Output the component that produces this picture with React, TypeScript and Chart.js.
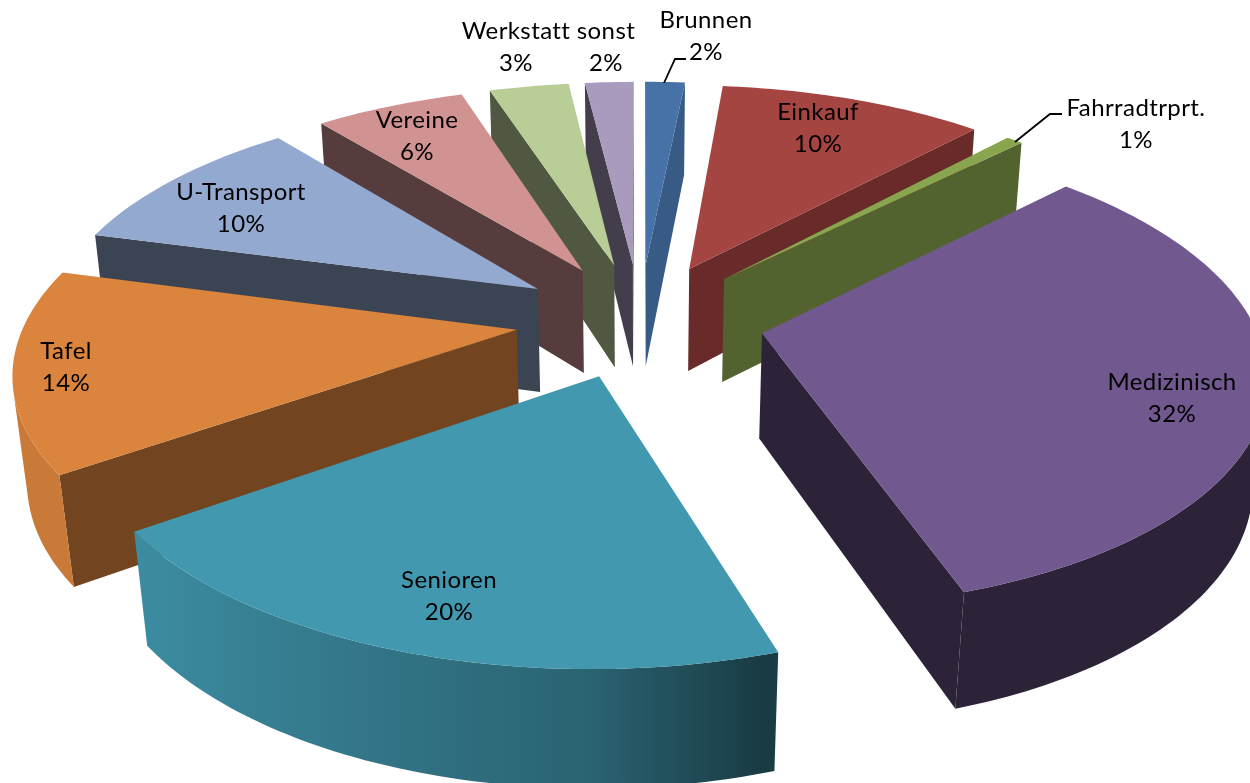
import React, { useEffect, useRef } from "react";
import { Chart, registerables } from "chart.js";

Chart.register(...registerables);

const categories = ["Brunnen", "Einkauf", "Fahrradtrprt.", "Medizinisch", "Senioren", "Tafel", "U-Transport", "Vereine", "Werkstatt", "sonst"];
const shares = [1.55, 10.35, 0.65, 32.45, 20.25, 13.9, 10, 5.85, 3.1, 1.9];
const colors = ["#4672a8", "#a54542", "#89a54e", "#71588f", "#4198af", "#db843d", "#93a9cf", "#d19392", "#b9cd96", "#a99bbd"];
const wallShades = [0.8, 0.63, 0.6, 0.4, 0.4, 0.52, 0.4, 0.41, 0.43, 0.4];
const labelCenters = [[706, 20], [818, 112], [1136, 108], [1172, 382], [449, 580], [66, 351], [241, 192], [417, 120], [516, 31], [606, 31]];
const leaderLines = [
  [[664, 83], [675, 59], [686, 59]],
  [[1015, 142], [1050, 114], [1062, 114]],
];

const VIEW = { cx: 640, cy: 319.5, R: 491, S: 227, K: 0.157, M: 0.023, T: 107 };

function project(u: number, v: number, z: number): [number, number] {
  const w = 1 + VIEW.K * v + VIEW.M * z;
  return [VIEW.cx + (VIEW.R * u) / w, VIEW.cy - (VIEW.S * v - VIEW.T * z) / w];
}

function scale(hex: string, f: number) {
  const n = parseInt(hex.slice(1), 16);
  return `rgb(${Math.round(((n >> 16) & 255) * f)},${Math.round(((n >> 8) & 255) * f)},${Math.round((n & 255) * f)})`;
}

function outerShade(a: number) {
  const nx = Math.cos(a);
  if (nx <= -0.8) return 0.92;
  if (nx <= 0) return 0.65 + (0.27 * -nx) / 0.8;
  if (nx <= 0.3) return 0.65 - (0.28 * nx) / 0.3;
  return 0.4;
}

function fillPoly(ctx: CanvasRenderingContext2D, pts: [number, number][], color: string | CanvasGradient) {
  ctx.beginPath();
  pts.forEach((p, i) => (i ? ctx.lineTo(p[0], p[1]) : ctx.moveTo(p[0], p[1])));
  ctx.closePath();
  ctx.fillStyle = color;
  ctx.fill();
}

function area(p: [number, number][]) {
  let s = 0;
  p.forEach((a, i) => {
    const b = p[(i + 1) % p.length];
    s += a[0] * b[1] - b[0] * a[1];
  });
  return s / 2;
}

const pie3d = {
  id: "pie3d",
  beforeDatasetsDraw(chart: any) {
    const ctx: CanvasRenderingContext2D = chart.ctx;
    const arcs = chart.getDatasetMeta(0).data as any[];
    const midOf = (a: any) => (a.startAngle + a.endAngle) / 2;
    const order = arcs.map((_, i) => i).sort((p, q) => Math.sin(midOf(arcs[p])) - Math.sin(midOf(arcs[q])));
    for (const i of order) {
      const arc = arcs[i];
      const base = arc.options.backgroundColor as string;
      const e = arc.options.offset / arc.outerRadius;
      const mid = midOf(arc);
      const ou = e * Math.cos(mid);
      const ov = -e * Math.sin(mid);
      const at = (a: number, r: number, z: number) => project(ou + r * Math.cos(a), ov - r * Math.sin(a), z);
      const steps = Math.max(4, Math.ceil((arc.endAngle - arc.startAngle) / 0.02));
      const angles = Array.from({ length: steps + 1 }, (_, k) => arc.startAngle + ((arc.endAngle - arc.startAngle) * k) / steps);
      // radial cut walls: keep those that face the viewer
      const wallA = [at(arc.startAngle, 0, 0), at(arc.startAngle, 0, 1), at(arc.startAngle, 1, 1), at(arc.startAngle, 1, 0)];
      const wallB = [at(arc.endAngle, 0, 0), at(arc.endAngle, 1, 0), at(arc.endAngle, 1, 1), at(arc.endAngle, 0, 1)];
      if (area(wallA) > 0) fillPoly(ctx, wallA, scale(base, wallShades[i]));
      if (area(wallB) > 0) fillPoly(ctx, wallB, scale(base, wallShades[i]));
      // curved outer wall: one shape with a gradient along the visible run
      const visible = angles.filter((a, k) => {
        const b = angles[k + 1] ?? a;
        const c = angles[k - 1] ?? a;
        const next = k < steps ? area([at(a, 1, 0), at(a, 1, 1), at(b, 1, 1), at(b, 1, 0)]) : 0;
        const prev = k > 0 ? area([at(c, 1, 0), at(c, 1, 1), at(a, 1, 1), at(a, 1, 0)]) : 0;
        return next > 0 || prev > 0;
      });
      if (visible.length > 1) {
        const tops = visible.map((a) => at(a, 1, 0));
        const bottoms = visible.map((a) => at(a, 1, 1));
        const xs = tops.map((p) => p[0]);
        const x0 = Math.min(...xs);
        const x1 = Math.max(...xs);
        const grad = ctx.createLinearGradient(x0, 0, x1, 0);
        visible.forEach((a, k) => {
          grad.addColorStop(Math.min(1, Math.max(0, (xs[k] - x0) / (x1 - x0 || 1))), scale(base, outerShade(a)));
        });
        fillPoly(ctx, [...tops, ...bottoms.reverse()], grad);
      }
      // top face
      fillPoly(ctx, [at(0, 0, 0), ...angles.map((a) => at(a, 1, 0))], base);
    }
    return false;
  },
  afterDraw(chart: any) {
    const ctx: CanvasRenderingContext2D = chart.ctx;
    ctx.save();
    ctx.strokeStyle = "#000";
    ctx.lineWidth = 1.8;
    leaderLines.forEach((l) => {
      ctx.beginPath();
      l.forEach((p, i) => (i ? ctx.lineTo(p[0], p[1]) : ctx.moveTo(p[0], p[1])));
      ctx.stroke();
    });
    ctx.fillStyle = "#000";
    ctx.font = '24px Lato, "Open Sans", sans-serif';
    (ctx as any).letterSpacing = "0.4px";
    ctx.textAlign = "center";
    ctx.textBaseline = "middle";
    categories.forEach((c, i) => {
      const [x, y] = labelCenters[i];
      ctx.fillText(c, x, y);
      ctx.fillText(`${Math.round(shares[i])}%`, x, y + 32);
    });
    ctx.restore();
  },
};

export default function App() {
  const ref = useRef<HTMLCanvasElement>(null);
  useEffect(() => {
    document.body.style.margin = "0";
    const chart = new Chart(ref.current!, {
      type: "pie",
      data: {
        labels: categories,
        datasets: [{ data: shares, backgroundColor: colors, borderWidth: 0, offset: 88 }],
      },
      options: {
        animation: false,
        responsive: false,
        plugins: { legend: { display: false }, tooltip: { enabled: false } },
      },
      plugins: [pie3d],
    } as any);
    return () => chart.destroy();
  }, []);
  return <canvas ref={ref} width={1250} height={783} style={{ display: "block" }} />;
}
